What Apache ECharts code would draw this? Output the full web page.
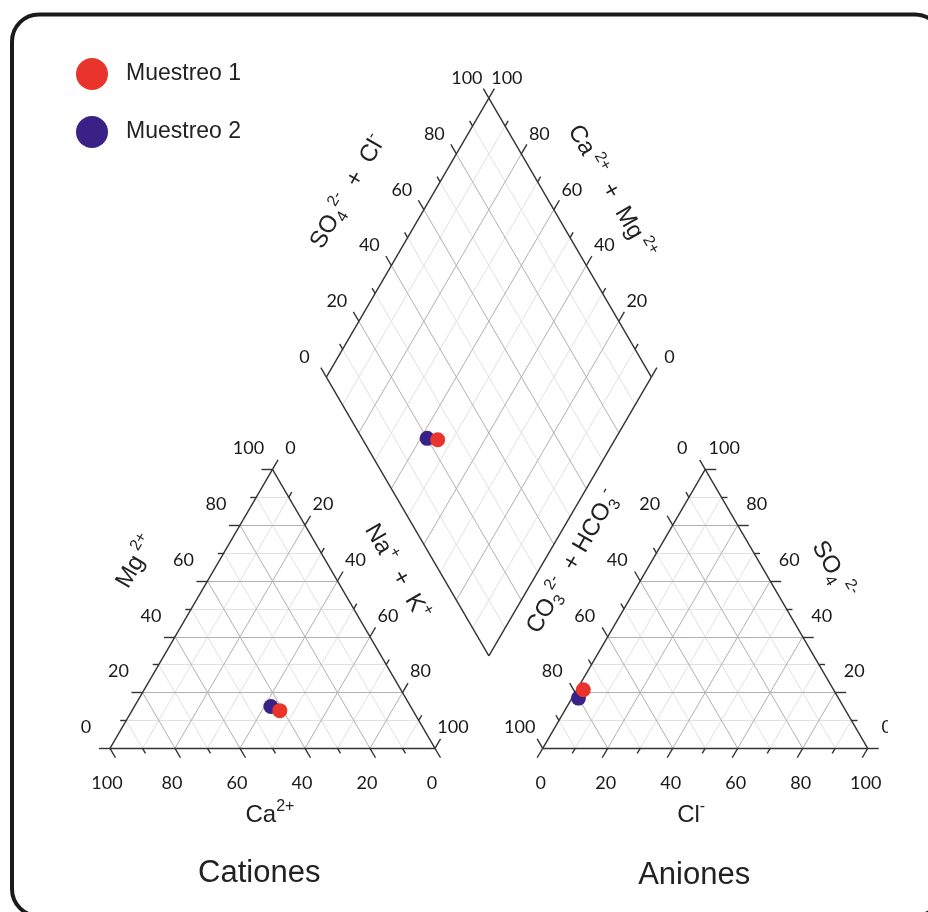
<!DOCTYPE html>
<html><head><meta charset="utf-8">
<script src="https://cdn.jsdelivr.net/npm/echarts@6/dist/echarts.min.js"></script>
<style>html,body{margin:0;padding:0;background:#fff}#c{width:928px;height:912px}</style>
</head><body><div id="c"></div>
<script>
// ---------- data ----------
const seriesNames = ['Muestreo 1', 'Muestreo 2'];
const seriesColors = ['#e8342b', '#3a2185'];
const caPct   = [41, 43];      // Ca2+ (% meq)
const mgPct   = [13.5, 15];    // Mg2+
const naKPct  = [45.5, 42];    // Na+ + K+
const hco3Pct = [77, 80];      // CO3 2- + HCO3-
const so4Pct  = [21, 18];      // SO4 2-
const clPct   = [2, 2];        // Cl-
const tickValues  = [0, 10, 20, 30, 40, 50, 60, 70, 80, 90, 100];
const labelValues = [0, 20, 40, 60, 80, 100];
const gridValues  = [10, 20, 30, 40, 50, 60, 70, 80, 90];

// ---------- piper geometry (data space, side = 100) ----------
const R3 = Math.sqrt(3) / 2;
const GAP = 33.14;
const AX0 = 100 + GAP;
const B = [100 + GAP / 2, GAP * R3];
const U1 = [-0.5, R3], U2 = [0.5, R3];

function catXY(ca, mg, na) { const s = ca + mg + na; mg = 100 * mg / s; na = 100 * na / s; return [na + mg / 2, mg * R3]; }
function anXY(hco3, so4, cl) { const s = hco3 + so4 + cl; so4 = 100 * so4 / s; cl = 100 * cl / s; return [AX0 + cl + so4 / 2, so4 * R3]; }
function diaXY(p, q) { return [B[0] + p * U1[0] + q * U2[0], B[1] + p * U1[1] + q * U2[1]]; }

// pixel mapping of the cartesian grid
const PX = 3.25, PY = 3.22, X0PX = 110, Y0PX = 748.3, GRID_RIGHT = 888, H = 912;
const xMin = -X0PX / PX, xMax = (GRID_RIGHT - X0PX) / PX;
const yMin = (Y0PX - H) / PY, yMax = Y0PX / PY;

const axesDef = [
  { pt: v => catXY(100 - v, v, 0), dir: [-1, 0], off: [-24, -21] },      // Mg2+
  { pt: v => catXY(0, 100 - v, v), dir: [0.5, R3], off: [18, -21] },     // Na+ + K+
  { pt: v => catXY(v, 0, 100 - v), dir: [0.5, -R3], off: [-3, 35] },     // Ca2+
  { pt: v => anXY(v, 100 - v, 0), dir: [-0.5, R3], off: [-23, -21] },    // CO3+HCO3
  { pt: v => anXY(0, v, 100 - v), dir: [1, 0], off: [19, -21] },         // SO4
  { pt: v => anXY(100 - v, 0, v), dir: [-0.5, -R3], off: [-2, 35] },     // Cl
  { pt: v => diaXY(100, v), dir: U1, off: [-22, -20] },                  // SO4+Cl
  { pt: v => diaXY(v, 100), dir: U2, off: [18, -20] }                    // Ca+Mg
];

// grid lines
const minorLines = [], majorLines = [];
gridValues.forEach(v => {
  const segs = [
    [catXY(100 - v, v, 0), catXY(0, v, 100 - v)],
    [catXY(100 - v, 0, v), catXY(0, 100 - v, v)],
    [catXY(v, 0, 100 - v), catXY(v, 100 - v, 0)],
    [anXY(v, 100 - v, 0), anXY(v, 0, 100 - v)],
    [anXY(100 - v, v, 0), anXY(0, v, 100 - v)],
    [anXY(100 - v, 0, v), anXY(0, 100 - v, v)],
    [diaXY(v, 0), diaXY(v, 100)],
    [diaXY(0, v), diaXY(100, v)]
  ];
  (v % 20 === 0 ? majorLines : minorLines).push(...segs.map(s => ({ coords: s })));
});

// outlines
const outlineLines = [];
function poly(pts) { for (let i = 0; i < pts.length; i++) outlineLines.push({ coords: [pts[i], pts[(i + 1) % pts.length]] }); }
poly([catXY(100, 0, 0), catXY(0, 0, 100), catXY(0, 100, 0)]);
poly([anXY(100, 0, 0), anXY(0, 0, 100), anXY(0, 100, 0)]);
poly([diaXY(0, 0), diaXY(100, 0), diaXY(100, 100), diaXY(0, 100)]);

// ticks
const tickLines = [];
axesDef.forEach(a => tickValues.forEach(v => {
  const p = a.pt(v), len = (v % 20 === 0 ? 11 : 6) / 3.24;
  tickLines.push({ coords: [p, [p[0] + a.dir[0] * len, p[1] + a.dir[1] * len]] });
}));

// tick labels
const tickLabels = [];
axesDef.forEach(a => labelValues.forEach(v => {
  tickLabels.push({ pos: a.pt(v), off: a.off, rot: 0, text: String(v), kind: 'tick' });
}));

// titles
const deg = Math.PI / 180;
const titles = [
  { pos: catXY(50, 50, 0), off: [-55, -47], rot: 60, text: '{n|Mg}{sup| 2+}' },
  { pos: catXY(0, 50, 50), off: [43, -37], rot: -60, text: '{n|Na}{sup|+}{n|  +  K}{sup|+}' },
  { pos: catXY(50, 0, 50), off: [-2.5, 66.7], rot: 0, text: '{n|Ca}{sup|2+}' },
  { pos: catXY(50, 0, 50), off: [-13.3, 125], rot: 0, text: '{big|Cationes}' },
  { pos: anXY(50, 50, 0), off: [-51, -47], rot: 60, text: '{n|CO}{sub|3}{sup|2-}{n|  + HCO}{sub|3}{sup|-}' },
  { pos: anXY(0, 50, 50), off: [46.5, -39], rot: -60, text: '{n|SO}{sub|4}{sup| 2-}' },
  { pos: anXY(50, 0, 50), off: [-14, 66.7], rot: 0, text: '{n|Cl}{sup|-}' },
  { pos: anXY(50, 0, 50), off: [-11, 126.7], rot: 0, text: '{big|Aniones}' },
  { pos: diaXY(100, 50), off: [-59.5, -45.7], rot: 60, text: '{n|SO}{sub|4}{sup|2-}{n|  +  Cl}{sup|-}' },
  { pos: diaXY(50, 100), off: [41, -45.7], rot: -60, text: '{n|Ca}{sup| 2+}{n|  +  Mg}{sup| 2+}' }
];
const allTexts = tickLabels.concat(titles.map(t => Object.assign({ kind: 'title' }, t)));

const FF = 'Liberation Sans, Arial, sans-serif';
const richStyles = {
  n: { fontSize: 24, fontFamily: FF, fill: '#222', lineHeight: 32 },
  sup: { fontSize: 16, fontFamily: FF, fill: '#222', verticalAlign: 'top', lineHeight: 16 },
  sub: { fontSize: 16, fontFamily: FF, fill: '#222', verticalAlign: 'bottom', lineHeight: 16 },
  big: { fontSize: 31, fontFamily: FF, fill: '#222', lineHeight: 36 }
};

const chart = echarts.init(document.getElementById('c'), null, { renderer: 'canvas' });

function linesSeries(data, color, width, z) {
  return { type: 'lines', coordinateSystem: 'cartesian2d', data, silent: true, z,
    lineStyle: { color, width, opacity: 1, curveness: 0 }, effect: { show: false } };
}

const scatterSeries = seriesNames.map((name, i) => ({
  type: 'scatter', name, symbol: 'circle', symbolSize: 15, z: 10 - i,
  itemStyle: { color: seriesColors[i], opacity: 1 },
  data: [
    catXY(caPct[i], mgPct[i], naKPct[i]),
    anXY(hco3Pct[i], so4Pct[i], clPct[i]),
    diaXY(caPct[i] + mgPct[i], so4Pct[i] + clPct[i])
  ]
}));

chart.setOption({
  animation: false,
  backgroundColor: '#fff',
  grid: { left: 0, top: 0, right: 928 - GRID_RIGHT, bottom: 0 },
  xAxis: { type: 'value', min: xMin, max: xMax, show: false },
  yAxis: { type: 'value', min: yMin, max: yMax, show: false },
  legend: {
    orient: 'vertical', left: 71, top: 53, itemWidth: 32, itemHeight: 32, itemGap: 26,
    icon: 'circle', data: seriesNames,
    textStyle: { fontSize: 23, fontFamily: FF, color: '#222', padding: [0, 0, 0, 13] }
  },
  graphic: [{
    type: 'rect', silent: true, z: 100, x: 0, y: 0,
    shape: { x: 12, y: 14.5, width: 930, height: 901.5, r: 27 },
    style: { fill: 'none', stroke: '#1b1b1b', lineWidth: 4 }
  }],
  series: [
    linesSeries(minorLines, '#e4e0e0', 1, 1),
    linesSeries(majorLines, '#b5afae', 1, 2),
    linesSeries(outlineLines, '#333333', 1.4, 3),
    linesSeries(tickLines, '#333333', 1.4, 3),
    {
      type: 'custom', coordinateSystem: 'cartesian2d', clip: true, silent: true, z: 5,
      data: allTexts.map(t => t.pos),
      renderItem: function (params, api) {
        const t = allTexts[params.dataIndex];
        const c = api.coord([api.value(0), api.value(1)]);
        const style = t.kind === 'tick'
          ? { text: t.text, fontSize: 18, fontFamily: 'Lato, sans-serif', fill: '#1a1a1a', align: 'center', verticalAlign: 'middle' }
          : { text: t.text, rich: richStyles, align: 'center', verticalAlign: 'middle', fontSize: 24, fill: '#222' };
        return { type: 'text', x: c[0] + t.off[0], y: c[1] + t.off[1], rotation: t.rot * deg, style };
      }
    },
    ...scatterSeries
  ]
});
</script></body></html>
